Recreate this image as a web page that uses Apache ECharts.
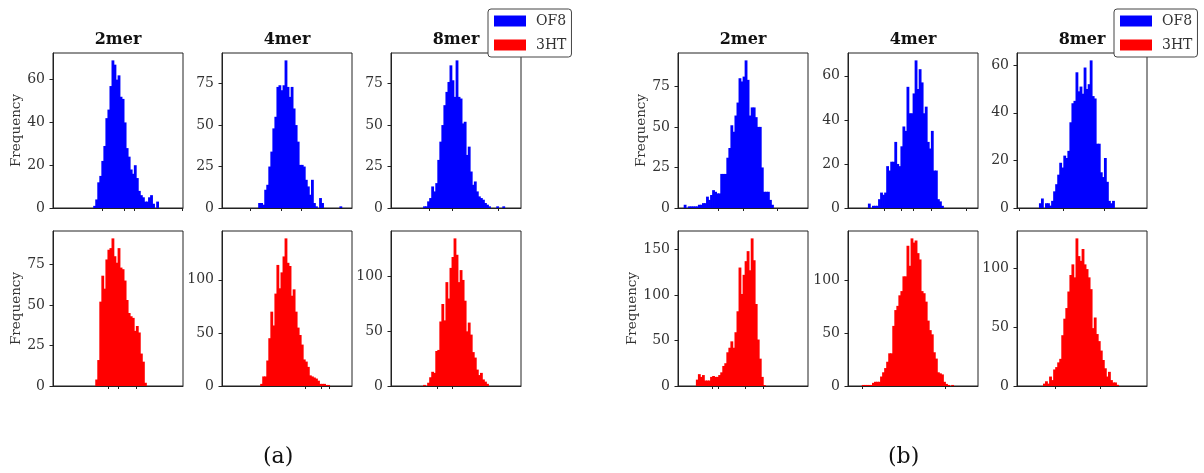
<!DOCTYPE html>
<html>
<head>
<meta charset="utf-8">
<script src="https://cdn.jsdelivr.net/npm/echarts@6/dist/echarts.min.js"></script>
<style>
html, body { margin: 0; background: #fff; }
#chart { width: 1204px; height: 473px; }
</style>
</head>
<body>
<div id="chart"></div>
<script>
// histogram counts per bin, bins are indexes on a 0..64 axis
const titles = ['2mer', '4mer', '8mer'];
const seriesNames = ['OF8', '3HT'];
const groupLabels = ['(a)', '(b)'];

const a2merOF8 = [1,4,12,15,22,29,42,46,57,69,67,60,62,52,51,40,28,24,18,16,20,14,8,6,5,3,3,5,6,2,0,3];
const a4merOF8 = [3,3,2,11,14,25,34,48,55,73,74,71,74,89,73,67,73,60,50,40,26,26,25,17,13,8,17,3,1,0,6,3,0,0,0,0,0,0,0,0,1];
const a8merOF8 = [1,1,4,6,13,10,15,29,40,50,62,70,76,86,77,67,89,67,66,51,52,32,37,22,14,16,10,7,6,5,3,2,1,0,0,0,1,0,0,1];
const a2mer3HT = [4,16,52,68,60,78,84,85,91,80,76,85,73,72,65,53,45,43,42,34,37,33,20,15,2];
const a4mer3HT = [2,9,9,24,45,70,57,87,114,92,107,122,139,116,113,85,91,70,55,48,39,25,23,18,10,9,8,7,5,2,2,2,1,1];
const a8mer3HT = [1,0,3,8,13,12,32,33,59,75,60,95,80,108,118,135,120,95,106,97,78,50,58,47,31,26,15,10,12,6,4,2];

const b2merOF8 = [2,0,1,1,1,1,1,2,2,3,3,7,5,8,11,10,9,9,21,21,21,31,37,51,47,57,65,80,78,81,91,79,57,62,62,56,50,50,25,10,10,10,5,2];
const b4merOF8 = [2,0,1,1,1,4,7,6,7,19,17,21,21,30,20,19,28,37,35,55,43,43,52,67,54,63,57,43,46,30,27,35,17,17,4,3,1];
const b8merOF8 = [2,4,0,2,2,1,3,7,10,14,19,17,22,21,24,36,44,45,57,49,51,48,59,50,52,62,47,46,27,27,15,13,21,11,3,2,3];
const b2mer3HT = [7,13,10,12,6,6,6,10,11,10,10,12,15,22,25,37,42,49,42,59,82,130,101,122,137,148,127,162,138,90,51,30,10,1];
const b4mer3HT = [1,1,1,1,1,3,4,4,4,9,13,17,23,31,31,57,72,76,86,90,104,104,133,114,140,136,138,126,120,90,88,80,62,53,49,32,26,13,12,11,4,2,1,0,1];
const b8mer3HT = [2,4,2,8,5,14,16,20,23,43,57,66,80,94,103,92,125,110,106,116,103,99,92,82,49,58,44,38,30,22,15,8,12,5,3,3,1];

// first bin index of each histogram
const startsA = [[20, 18, 16], [21, 19, 16]];
const startsB = [[3, 10, 11], [9, 7, 13]];

const yTicksA = [[[0,20,40,60], [0,25,50,75], [0,25,50,75]], [[0,25,50,75], [0,50,100], [0,50,100]]];
const yTicksB = [[[0,25,50,75], [0,20,40,60], [0,20,40,60]], [[0,50,100,150], [0,50,100], [0,50,100]]];

const xTicksA = [[[24, 35, 40, 63.5], [14, 29, 39], [19, 30, 53]], [[27, 32, 41], [41, 49, 53], [23, 30]]];
const xTicksB = [[[20, 32, 49], [18, 26, 32, 41, 58], [1, 23, 43]], [[17, 20, 33, 42], [7, 48], [19, 41]]];

const counts = [[[a2merOF8, a4merOF8, a8merOF8], [a2mer3HT, a4mer3HT, a8mer3HT]],
                [[b2merOF8, b4merOF8, b8merOF8], [b2mer3HT, b4mer3HT, b8mer3HT]]];
const starts = [startsA, startsB];
const yTicks = [yTicksA, yTicksB];
const xTicks = [xTicksA, xTicksB];

const NBINS = 64;
const colors = ['#0000ff', '#ff0000'];
const serif = 'DejaVu Serif';
const ink = '#222';

const colLeft = [[53, 222, 391], [678, 848, 1017]];
const rowTop = [53, 231];
const panelW = 130, panelH = 155;

const grid = [], xAxis = [], yAxis = [], series = [], title = [];

function renderBin(color) {
  return function (params, api) {
    const v = api.value(1);
    if (!v) return null;
    const x = api.value(0);
    const p0 = api.coord([x, v]);
    const p1 = api.coord([x + 1, 0]);
    // widen by a hair so neighbouring bins leave no white seam
    return {
      type: 'rect',
      shape: { x: p0[0] - 0.4, y: p0[1], width: p1[0] - p0[0] + 0.8, height: p1[1] - p0[1] },
      style: { fill: color }
    };
  };
}

for (let g = 0; g < 2; g++) {
  for (let r = 0; r < 2; r++) {
    for (let c = 0; c < 3; c++) {
      const idx = grid.length;
      const data = counts[g][r][c];
      const s = starts[g][r][c];
      grid.push({
        left: colLeft[g][c], top: rowTop[r], width: panelW, height: panelH,
        show: true, borderColor: ink, borderWidth: 1, backgroundColor: 'transparent'
      });
      xAxis.push({
        type: 'value', gridIndex: idx, min: 0, max: NBINS,
        axisLine: { show: true, lineStyle: { color: ink, width: 1 } },
        axisTick: { show: true, customValues: xTicks[g][r][c], length: 3, lineStyle: { color: ink } },
        axisLabel: { show: false },
        splitLine: { show: false }
      });
      yAxis.push({
        type: 'value', gridIndex: idx, min: 0, max: Math.max(...data) * 1.05,
        axisLine: { show: true, lineStyle: { color: ink, width: 1 } },
        axisTick: { show: true, customValues: yTicks[g][r][c], length: 3.5, lineStyle: { color: ink } },
        axisLabel: { customValues: yTicks[g][r][c], fontFamily: serif, fontSize: 14, color: '#333', margin: 8 },
        splitLine: { show: false },
        name: c === 0 ? 'Frequency' : '',
        nameLocation: 'middle', nameGap: 29,
        nameTextStyle: { fontFamily: serif, fontSize: 13.5, color: '#333' }
      });
      series.push({
        type: 'custom', name: seriesNames[r], xAxisIndex: idx, yAxisIndex: idx,
        itemStyle: { color: colors[r] },
        renderItem: renderBin(colors[r]),
        data: data.map((v, i) => [s + i, v]),
        silent: true
      });
      if (r === 0) {
        title.push({
          text: titles[c], left: colLeft[g][c] + panelW / 2, top: 32, textAlign: 'center', padding: 0,
          textStyle: { fontFamily: serif, fontSize: 16, fontWeight: 'bold', color: '#111' }
        });
      }
    }
  }
}

const legendBase = {
  data: seriesNames, orient: 'vertical', icon: 'rect', top: 9,
  itemWidth: 32, itemHeight: 11, itemGap: 10,
  padding: [5, 5, 5, 6],
  borderColor: '#444', borderWidth: 1, borderRadius: 3, backgroundColor: '#fff',
  textStyle: { fontFamily: serif, fontSize: 14, color: '#333', padding: [0, 0, 0, 5] },
  selectedMode: false, z: 10
};

const chart = echarts.init(document.getElementById('chart'), null, { renderer: 'canvas' });
chart.setOption({
  animation: false,
  title: title,
  grid: grid,
  xAxis: xAxis,
  yAxis: yAxis,
  series: series,
  legend: [Object.assign({ left: 488 }, legendBase), Object.assign({ left: 1114 }, legendBase)],
  graphic: groupLabels.map((t, i) => ({
    type: 'text', left: [263, 888][i], top: 446, z: 10,
    style: { text: t, font: '22px "DejaVu Serif"', fill: '#111' }
  }))
});
</script>
</body>
</html>
